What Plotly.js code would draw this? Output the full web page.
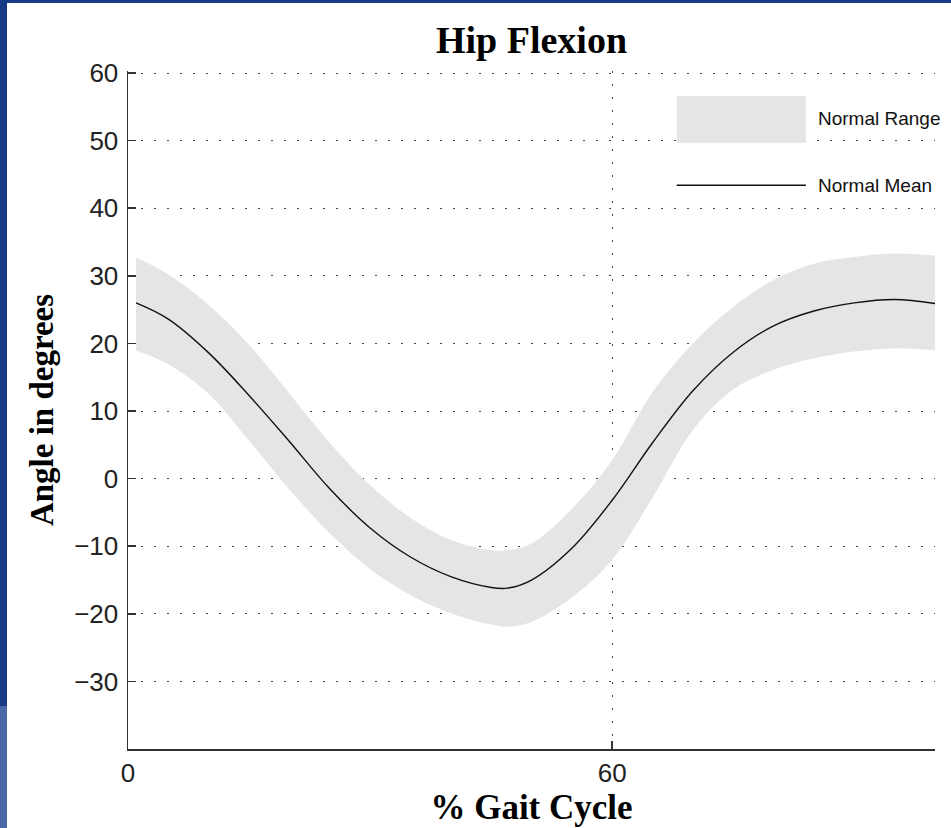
<!DOCTYPE html>
<html>
<head>
<meta charset="utf-8">
<script src="https://cdn.plot.ly/plotly-3.0.1.min.js"></script>
<style>
  html, body { margin: 0; padding: 0; background: #fff; }
  #wrap { position: relative; width: 951px; height: 828px; overflow: hidden; }
  #chart { position: absolute; left: 0; top: 0; width: 951px; height: 828px; }
  .strip { position: absolute; z-index: 10; }
</style>
</head>
<body>
<div id="wrap">
  <div id="chart"></div>
  <div class="strip" style="left:0;top:0;width:951px;height:3px;background:#163a83;"></div>
  <div class="strip" style="left:0;top:0;width:7px;height:706px;background:#163a83;"></div>
  <div class="strip" style="left:0;top:706px;width:7px;height:122px;background:#4b69a7;"></div>
</div>
<script>
// % gait cycle
const gaitPct = [1, 5, 10, 15, 20, 25, 30, 35, 40, 45, 47, 50, 55, 60, 65, 70, 75, 80, 85, 90, 95, 100];
// Normal mean hip flexion angle (degrees)
const meanAngle = [26.0, 23.6, 18.6, 12.3, 5.5, -1.5, -7.3, -11.6, -14.5, -16.1, -16.2, -15.0, -10.3, -3.2, 5.3, 13.0, 18.7, 22.6, 24.8, 26.0, 26.5, 25.9];
// Upper bound of normal range
const upperAngle = [32.7, 30.2, 25.7, 19.8, 12.6, 5.3, -1.0, -5.8, -9.1, -10.6, -10.6, -9.6, -4.5, 2.7, 12.8, 20.0, 25.4, 29.4, 31.8, 32.8, 33.3, 33.0];
// Lower bound of normal range
const lowerAngle = [19.0, 16.9, 12.5, 5.6, -1.6, -8.1, -13.4, -17.2, -19.9, -21.6, -21.9, -21.2, -17.6, -12.0, -2.8, 7.2, 13.2, 16.1, 17.8, 18.8, 19.3, 19.0];

const yTicks = [-30, -20, -10, 0, 10, 20, 30, 40, 50, 60];
const xTicks = [0, 60];
const legendLabels = ['Normal Range', 'Normal Mean'];

const traces = [
  { x: gaitPct, y: lowerAngle, type: 'scatter', mode: 'lines',
    line: { width: 0, shape: 'spline', smoothing: 1 }, hoverinfo: 'skip', showlegend: false },
  { x: gaitPct, y: upperAngle, type: 'scatter', mode: 'lines', fill: 'tonexty',
    fillcolor: '#e5e5e5', line: { width: 0, shape: 'spline', smoothing: 1 },
    name: legendLabels[0], showlegend: false },
  { x: gaitPct, y: meanAngle, type: 'scatter', mode: 'lines',
    line: { color: '#111', width: 1.4, shape: 'spline', smoothing: 1 },
    name: legendLabels[1], showlegend: false }
];

const tickFont = { family: '"Liberation Sans", Arial, sans-serif', size: 26, color: '#222' };
const serifBold = '"Liberation Serif", "Times New Roman", serif';

const layout = {
  width: 951, height: 828,
  margin: { l: 128, r: 16, t: 71, b: 79 },
  paper_bgcolor: '#fff', plot_bgcolor: '#fff',
  showlegend: false,
  title: { text: '<b>Hip Flexion</b>', font: { family: serifBold, size: 38, color: '#000' },
           x: 0.5, xref: 'paper', xanchor: 'center', y: 0.952, yref: 'container', yanchor: 'middle' },
  xaxis: {
    range: [0, 100], tickvals: xTicks, ticktext: xTicks.map(String),
    showgrid: true, gridcolor: '#444', gridwidth: 1, griddash: '2px,11px',
    zeroline: false, showline: true, linecolor: '#333', linewidth: 1.5,
    ticks: 'inside', ticklen: 8, tickwidth: 1.5, tickcolor: '#333',
    tickfont: tickFont, ticklabelstandoff: 0,
    title: { text: '<b>% Gait Cycle</b>', font: { family: serifBold, size: 35, color: '#000' }, standoff: 3 }
  },
  yaxis: {
    range: [-40, 60.3], tickvals: yTicks,
    showgrid: true, gridcolor: '#444', gridwidth: 1, griddash: '2px,11px',
    zeroline: false, showline: true, linecolor: '#333', linewidth: 1.5,
    ticks: 'inside', ticklen: 8, tickwidth: 1.5, tickcolor: '#333',
    tickfont: tickFont, ticklabelstandoff: 3,
    title: { text: '<b>Angle in degrees</b>', font: { family: serifBold, size: 33, color: '#000' }, standoff: 10 }
  },
  shapes: [
    { type: 'rect', xref: 'x', yref: 'y', x0: 68, x1: 84, y0: 49.7, y1: 56.6,
      fillcolor: '#e5e5e5', line: { width: 0 } },
    { type: 'line', xref: 'x', yref: 'y', x0: 68, x1: 84, y0: 43.4, y1: 43.4,
      line: { color: '#111', width: 1.4 } }
  ],
  annotations: [
    { xref: 'x', yref: 'y', x: 85.2, y: 53.2, text: legendLabels[0], showarrow: false,
      xanchor: 'left', yanchor: 'middle', font: { family: '"Liberation Sans", Arial, sans-serif', size: 19, color: '#111' } },
    { xref: 'x', yref: 'y', x: 85.2, y: 43.4, text: legendLabels[1], showarrow: false,
      xanchor: 'left', yanchor: 'middle', font: { family: '"Liberation Sans", Arial, sans-serif', size: 19, color: '#111' } }
  ]
};

Plotly.newPlot('chart', traces, layout, { staticPlot: true, displayModeBar: false });
</script>
</body>
</html>
